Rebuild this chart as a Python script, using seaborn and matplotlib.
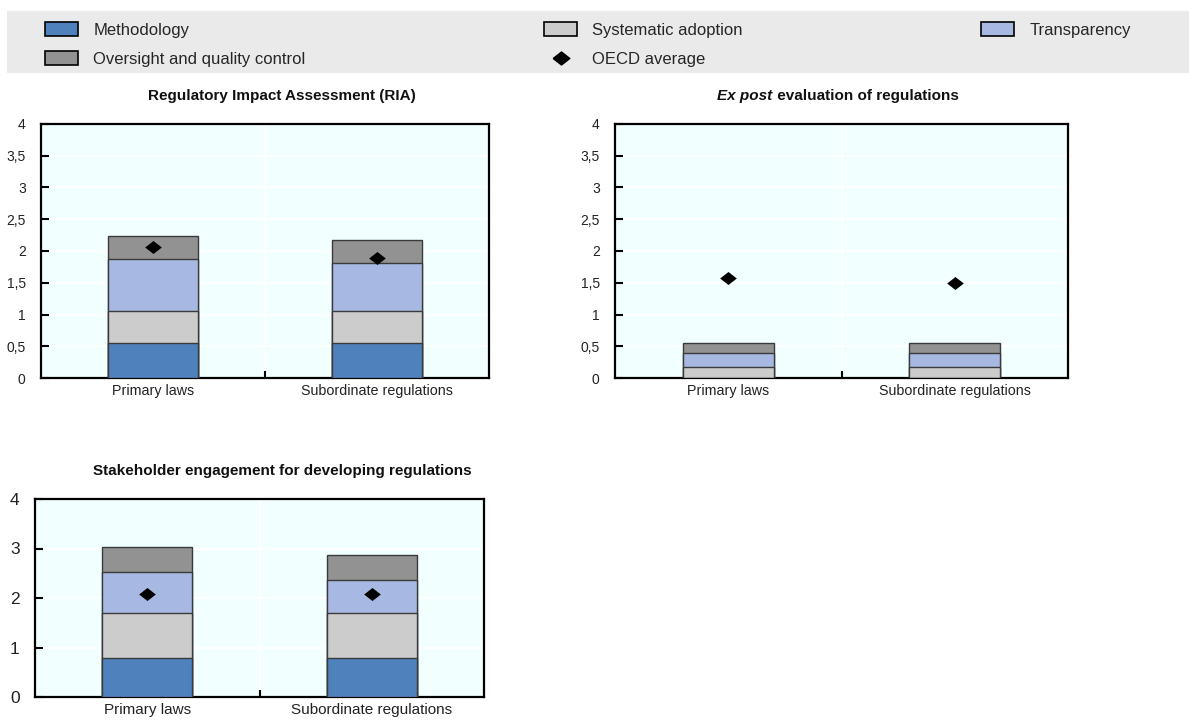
import numpy as np
import pandas as pd
import seaborn as sns
import matplotlib
matplotlib.use("Agg")
import matplotlib.pyplot as plt
from matplotlib.patches import Patch, Rectangle
from matplotlib.lines import Line2D
from matplotlib.ticker import FuncFormatter, FixedLocator

# ---------------- data ----------------
categories = ["Primary laws", "Subordinate regulations"]
series_names = ["Methodology", "Systematic adoption", "Transparency", "Oversight and quality control"]

ria_methodology = [0.55, 0.55]
ria_systematic = [0.50, 0.50]
ria_transparency = [0.83, 0.76]
ria_oversight = [0.35, 0.37]
ria_oecd = [2.07, 1.89]

ex_methodology = [0.0, 0.0]
ex_systematic = [0.18, 0.18]
ex_transparency = [0.21, 0.21]
ex_oversight = [0.16, 0.16]
ex_oecd = [1.57, 1.50]

se_methodology = [0.78, 0.78]
se_systematic = [0.91, 0.91]
se_transparency = [0.83, 0.67]
se_oversight = [0.51, 0.50]
se_oecd = [2.09, 2.08]

top_yticks = [0, 0.5, 1, 1.5, 2, 2.5, 3, 3.5, 4]
bottom_yticks = [0, 1, 2, 3, 4]

colors = {
    "Methodology": "#4F81BD",
    "Systematic adoption": "#CCCCCC",
    "Transparency": "#A7B9E3",
    "Oversight and quality control": "#929292",
}
BG = "#F2FFFF"
EDGE = "#3A3A3A"

sns.set_theme(style="white")
plt.rcParams["font.family"] = ["Liberation Sans", "DejaVu Sans"]

W, H = 1189, 722
fig = plt.figure(figsize=(W / 100, H / 100), dpi=100)

diamond = [(-1, 0), (0, 0.78), (1, 0), (0, -0.78), (-1, 0)]


def px_axes(x0, y0, x1, y1):
    return fig.add_axes([x0 / W, 1 - y1 / H, (x1 - x0) / W, (y1 - y0) / H])


def comma(v, pos):
    return f"{v:g}".replace(".", ",")


def panel(ax, meth, syst, trans, over, oecd, yticks, fs, yfs, ypad):
    df = pd.DataFrame({"cat": categories,
                       "Methodology": meth,
                       "Systematic adoption": syst,
                       "Transparency": trans,
                       "Oversight and quality control": over})
    cum = df[series_names].cumsum(axis=1)
    cum["cat"] = df["cat"]
    for name in reversed(series_names):
        sns.barplot(data=cum, x="cat", y=name, color=colors[name], saturation=1,
                    width=0.4, edgecolor=EDGE, linewidth=1.0, ax=ax, zorder=3)
    sns.stripplot(x=categories, y=oecd, jitter=False, marker=diamond, size=12,
                  color="black", linewidth=0, ax=ax, zorder=5)
    ax.set_facecolor(BG)
    ax.set_xlim(-0.5, 1.5)
    ax.set_ylim(0, 4)
    ax.set_xlabel("")
    ax.set_ylabel("")
    ax.yaxis.set_major_locator(FixedLocator(yticks))
    ax.yaxis.set_major_formatter(FuncFormatter(comma))
    ax.set_xticks([0, 1])
    ax.set_xticklabels(categories)
    ax.xaxis.set_minor_locator(FixedLocator([0.5]))
    ax.tick_params(axis="x", which="major", length=0, pad=4, labelsize=fs, colors="#222222")
    ax.tick_params(axis="x", which="minor", direction="in", length=5, width=1.5, color="black", bottom=True)
    ax.tick_params(axis="y", which="major", direction="in", length=6, width=1.5, color="black",
                   pad=ypad, labelsize=yfs, labelcolor="#222222", left=True)
    ax.set_axisbelow(True)
    ax.grid(False)
    ax.yaxis.grid(True, color="white", linewidth=1.3)
    ax.xaxis.grid(True, which="minor", color="white", linewidth=1.3)
    for s in ax.spines.values():
        s.set_visible(True)
        s.set_color("black")
        s.set_linewidth(1.6)
    return ax


ax1 = px_axes(41, 124, 489, 378)
panel(ax1, ria_methodology, ria_systematic, ria_transparency, ria_oversight, ria_oecd,
      top_yticks, 10.3, 10, 11)
ax2 = px_axes(615, 124, 1068, 378)
panel(ax2, ex_methodology, ex_systematic, ex_transparency, ex_oversight, ex_oecd,
      top_yticks, 10.3, 10, 11)
ax3 = px_axes(35, 499, 484, 697)
panel(ax3, se_methodology, se_systematic, se_transparency, se_oversight, se_oecd,
      bottom_yticks, 11, 12.5, 11)

# titles
fig.text(282 / W, 1 - 96 / H, "Regulatory Impact Assessment (RIA)", ha="center", va="center",
         fontsize=11, fontweight="bold", color="#111111")
fig.text(282 / W, 1 - 471 / H, "Stakeholder engagement for developing regulations", ha="center",
         va="center", fontsize=11, fontweight="bold", color="#111111")

renderer = fig.canvas.get_renderer()
t1 = fig.text(0, 1 - 96 / H, "Ex post", ha="left", va="center", fontsize=11,
              fontweight="bold", fontstyle="italic", color="#111111")
t2 = fig.text(0, 1 - 96 / H, " evaluation of regulations", ha="left", va="center", fontsize=11,
              fontweight="bold", color="#111111")
w1 = t1.get_window_extent(renderer).width
w2 = t2.get_window_extent(renderer).width
start = 838 - (w1 + w2) / 2
t1.set_x(start / W)
t2.set_x((start + w1) / W)

# legend background
fig.patches.append(Rectangle((7 / W, 1 - 73 / H), (W - 7) / W, 62 / H, transform=fig.transFigure,
                             facecolor="#EAEAEA", edgecolor="none", zorder=0))

handles = [
    Patch(facecolor=colors["Methodology"], edgecolor="black", linewidth=1.2, label="Methodology"),
    Patch(facecolor=colors["Oversight and quality control"], edgecolor="black", linewidth=1.2,
          label="Oversight and quality control"),
    Patch(facecolor=colors["Systematic adoption"], edgecolor="black", linewidth=1.2,
          label="Systematic adoption"),
    Line2D([], [], marker=diamond, markersize=12, color="black", linestyle="none",
           label="OECD average"),
    Patch(facecolor=colors["Transparency"], edgecolor="black", linewidth=1.2, label="Transparency"),
]
fig.legend(handles=handles, ncol=3, loc="upper left", bbox_to_anchor=(45 / W, 1 - 22 / H),
           frameon=False, fontsize=12, handlelength=2.0, handleheight=0.9, handletextpad=0.9,
           columnspacing=14.3, labelspacing=0.82, borderaxespad=0, borderpad=0)

fig.savefig("out.png", dpi=100)
